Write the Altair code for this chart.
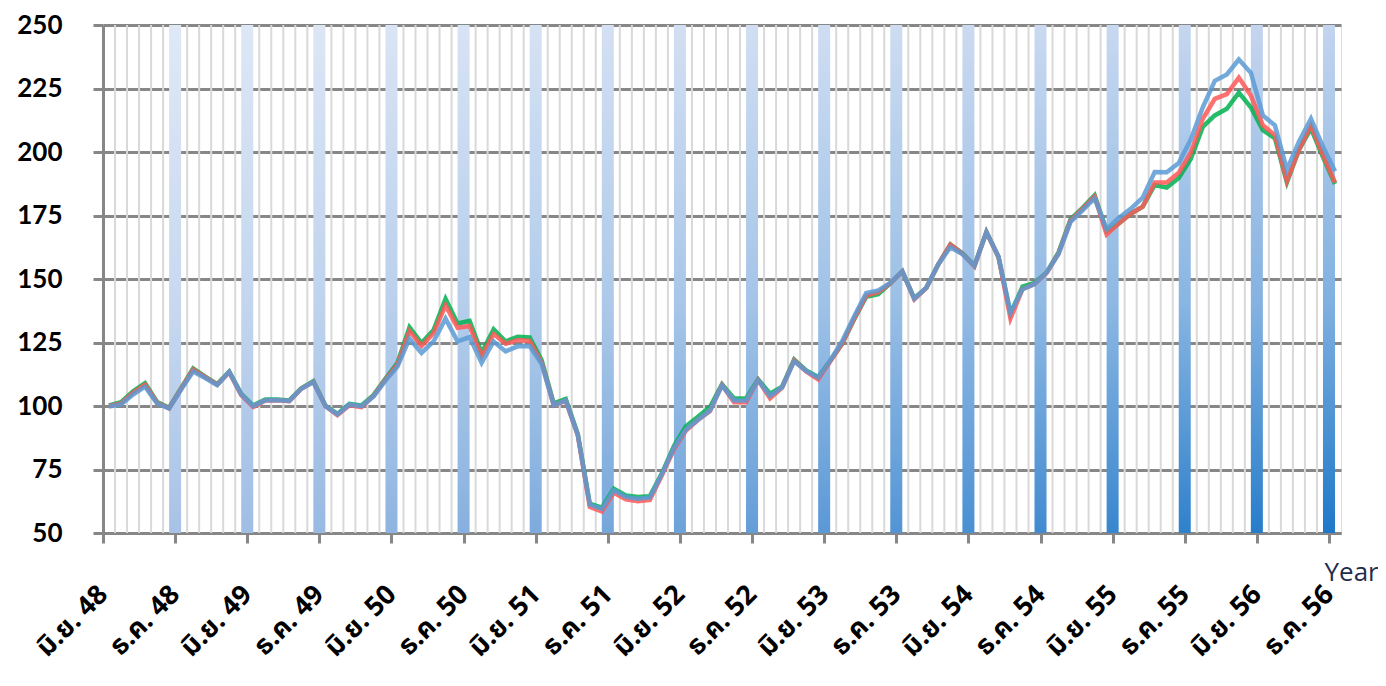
import altair as alt
import pandas as pd

tick_labels = ["มิ.ย. 48", "ธ.ค. 48", "มิ.ย. 49", "ธ.ค. 49", "มิ.ย. 50", "ธ.ค. 50",
               "มิ.ย. 51", "ธ.ค. 51", "มิ.ย. 52", "ธ.ค. 52", "มิ.ย. 53", "ธ.ค. 53",
               "มิ.ย. 54", "ธ.ค. 54", "มิ.ย. 55", "ธ.ค. 55", "มิ.ย. 56", "ธ.ค. 56"]
months_per_tick = 6
y_ticks = [50, 75, 100, 125, 150, 175, 200, 225, 250]

green = [100.2, 101.5, 105.8, 109, 101.6, 99.3, 107, 114.8, 111.6, 108.6, 113.5, 104.8, 100.2, 102.6, 102.6,
         102.2, 107, 109.8, 100.2, 96.9, 100.8, 100.2, 104.3, 110.8, 117, 131, 124.8, 129.9, 142.2, 132.5,
         133.5, 120.9, 130.2, 125.4, 127.3, 127, 118, 101, 102.8, 89, 61.6, 60, 67.4, 64.8, 64.2,
         64.5, 73.5, 84.2, 92, 95.8, 99.6, 108.6, 103, 103, 110.5, 104.8, 107.6, 118.3, 114, 111.4,
         117.7, 124.6, 134.2, 143, 144, 148.3, 153, 142.4, 146.5, 155.8, 163.6, 160.2, 155.2, 168.5, 158.7,
         136.3, 147, 148.5, 152.5, 160.5, 173.5, 178, 183, 168.8, 171.8, 175.7, 178.5, 187, 186, 189.8,
         197.2, 209.9, 214.4, 217, 223.4, 217.6, 208.6, 205.4, 188, 200.8, 209.3, 198, 187.4]
red = [100, 101, 105.2, 108.4, 101.3, 99.1, 106.8, 114.3, 111.4, 108.4, 113.3, 104.3, 99.6, 102.2, 102.3,
       101.9, 106.8, 109.5, 100, 96.4, 100.3, 99.6, 103.9, 110.4, 116.3, 129.5, 123.6, 128.6, 139.6, 130.8,
       131.5, 119.5, 128.3, 124.5, 126, 125.6, 117, 100.3, 102, 88.5, 60.3, 58.5, 65.8, 63.3, 62.5,
       63, 72.7, 82.9, 90.3, 94.5, 98, 108.3, 101.5, 101.5, 110.3, 103, 107.2, 118, 113.6, 110.5,
       117.5, 124.6, 134.4, 143.5, 144.8, 148.3, 153, 142, 146.5, 155.8, 163.6, 160, 155, 168.5, 158.7,
       134.5, 146, 148, 152.3, 160, 173, 177.6, 182.5, 167.5, 171.8, 175.7, 178.5, 188, 188, 191.8,
       199.7, 213.1, 220.9, 222.8, 229.3, 222.2, 210.5, 206.7, 188.6, 200.8, 210.5, 198.9, 188]
blue = [99.8, 100.6, 104.5, 107.6, 101, 99, 106.5, 113.6, 111, 108.2, 113.5, 104.6, 100, 102.3, 102.4,
        102, 106.8, 109.4, 100, 96.7, 100.6, 99.9, 103.7, 110, 115.5, 126.5, 120.9, 125.4, 134.4, 125.4,
        127.1, 117, 125.4, 121.5, 123.5, 123.5, 116.5, 100.3, 102.2, 88.7, 61.2, 59.5, 66.8, 64.2, 63.5,
        64, 73.2, 83.5, 90.7, 94.6, 98.2, 108.1, 102.2, 102.2, 110.1, 104, 107.4, 117.6, 113.8, 111.2,
        117.9, 125.5, 135.3, 144.5, 145.5, 148.5, 153, 142.2, 146.6, 155.8, 162.5, 159.8, 155.2, 168.5, 158.9,
        136.8, 146, 148, 152.5, 159.8, 172.5, 177, 181.8, 169.6, 174, 177.6, 182, 192.1, 192, 195.7,
        204.9, 217.6, 228, 230.5, 236.4, 231.2, 214.4, 210.5, 193.1, 204, 213.1, 202.1, 192.4]

series = [("green", green, "#00b050"), ("red", red, "#ff5858"), ("blue", blue, "#5b9bd5")]

n = len(blue)
W, H = 1238, 508

xscale = alt.Scale(domain=[0, n], nice=False, zero=False)
yscale = alt.Scale(domain=[y_ticks[0], y_ticks[-1]], nice=False, zero=False)

tick_vals = [k * months_per_tick for k in range(len(tick_labels))]
label_js = "[" + ",".join("'" + s + "'" for s in tick_labels) + "]"

xaxis = alt.Axis(
    values=tick_vals,
    labelExpr=label_js + "[round(datum.value/6)]",
    labelAngle=-45, labelAlign="right", labelBaseline="middle",
    labelFont="Tahoma, Noto Sans Thai, Noto Sans, sans-serif", labelFontWeight="bold",
    labelFontSize=27, labelColor="#000000", labelPadding=47,
    labelOverlap=False, labelBound=False, labelFlush=False,
    grid=False, domainColor="#878787", domainWidth=3,
    tickColor="#878787", tickWidth=3, tickSize=10,
    title="Year", titleFont="Open Sans", titleFontWeight="normal", titleFontSize=26,
    titleColor="#1f2d4d", titleX=W - 17, titleY=39, titleAlign="left", titleBaseline="middle",
)
yaxis = alt.Axis(
    values=y_ticks, grid=True, gridColor="#878787", gridWidth=3,
    domainColor="#878787", domainWidth=3, tickColor="#878787", tickWidth=3, tickSize=10,
    labelFont="Lato", labelFontWeight="bold", labelFontSize=26, labelColor="#000000",
    labelPadding=31, title=None,
)

# monthly light gridlines
grid_df = pd.DataFrame({"m": list(range(1, n)), "yt": y_ticks[-1], "yb": y_ticks[0]})
vgrid = alt.Chart(grid_df).mark_rule(color="#d9d9d9", strokeWidth=2).encode(
    x=alt.X("m:Q", scale=xscale, axis=xaxis),
    y=alt.Y("yt:Q", scale=yscale, axis=yaxis),
    y2="yb:Q",
)

def mix(c1, c2, f):
    a = [int(c1[i:i + 2], 16) for i in (1, 3, 5)]
    b = [int(c2[i:i + 2], 16) for i in (1, 3, 5)]
    return "#" + "".join("%02x" % round(a[j] + (b[j] - a[j]) * f) for j in range(3))

layers = [vgrid]
bar_ticks = tick_vals[1:]
for k, t in enumerate(bar_ticks):
    f = k / (len(bar_ticks) - 1)
    top = mix("#dfe8f6", "#c3d4ee", f)
    mid = mix("#c8d8ef", "#7fb0e0", f)
    bot = mix("#a8c2e7", "#1e78c8", f)
    bdf = pd.DataFrame({"x0": [t - 0.5], "x1": [t + 0.5], "yt": [y_ticks[-1]], "yb": [y_ticks[0]]})
    grad = alt.Gradient(gradient="linear", x1=0, x2=0, y1=0, y2=1,
                        stops=[alt.GradientStop(color=top, offset=0),
                               alt.GradientStop(color=mid, offset=0.55),
                               alt.GradientStop(color=bot, offset=1)])
    layers.append(alt.Chart(bdf).mark_rect(color=grad).encode(
        x=alt.X("x0:Q", scale=xscale, axis=xaxis), x2="x1:Q",
        y=alt.Y("yt:Q", scale=yscale, axis=yaxis), y2="yb:Q",
    ))

for name, vals, col in series:
    sdf = pd.DataFrame({"m": [i + 0.5 for i in range(len(vals))], "v": vals})
    layers.append(alt.Chart(sdf).mark_line(color=col, strokeWidth=4.5, opacity=0.85,
                                           strokeJoin="miter").encode(
        x=alt.X("m:Q", scale=xscale, axis=xaxis),
        y=alt.Y("v:Q", scale=yscale, axis=yaxis),
    ))

chart = alt.layer(*layers).properties(
    width=W, height=H,
    padding={"left": 95, "top": 17, "right": 37, "bottom": 145},
    autosize=alt.AutoSizeParams(type="none"),
).configure_view(stroke=None).configure(background="white")

chart.save("out.html", embed_options={"renderer": "svg", "actions": False})
